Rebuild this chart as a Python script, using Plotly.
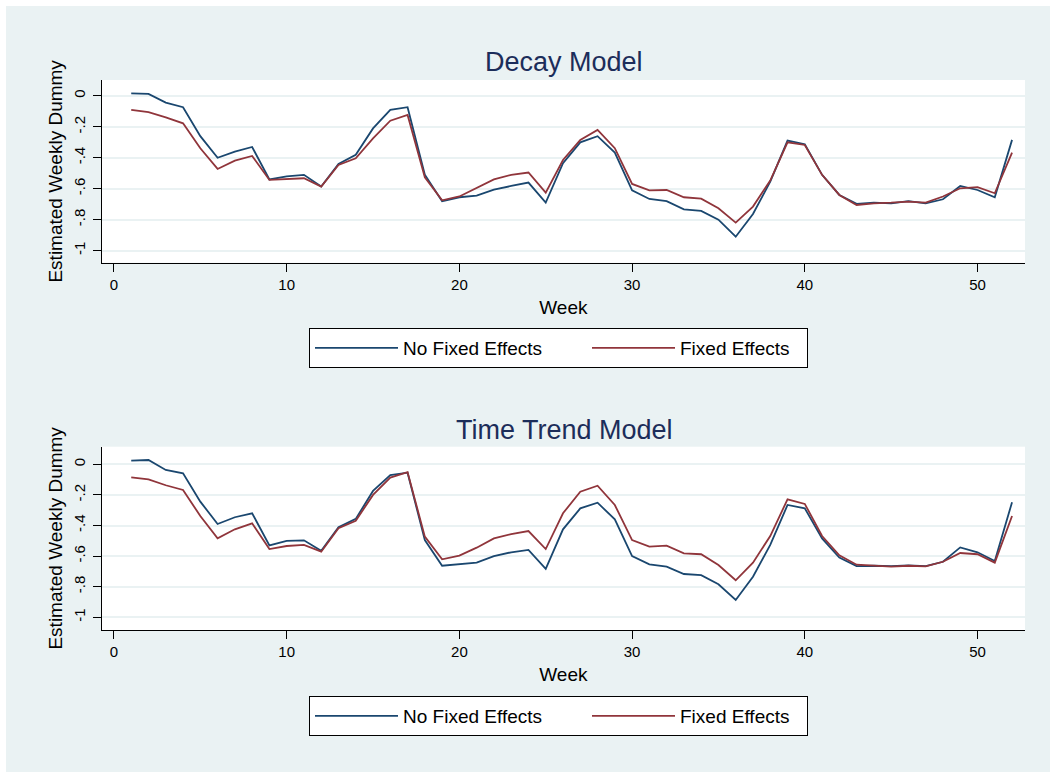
import plotly.graph_objects as go

weeks = list(range(1, 53))

decay_nofe = [0.017, 0.013, -0.043, -0.073, -0.26, -0.40, -0.36, -0.33, -0.54, -0.52,
              -0.51, -0.586, -0.44, -0.38, -0.21, -0.09, -0.073, -0.51, -0.68, -0.655,
              -0.644, -0.605, -0.582, -0.56, -0.69, -0.435, -0.30, -0.26, -0.366, -0.61,
              -0.666, -0.68, -0.733, -0.743, -0.80, -0.91, -0.763, -0.554, -0.289, -0.312,
              -0.51, -0.64, -0.698, -0.69, -0.694, -0.68, -0.694, -0.668, -0.582, -0.608, -0.655, -0.284]
decay_fe = [-0.09, -0.105, -0.138, -0.177, -0.338, -0.472, -0.418, -0.388, -0.543, -0.537,
            -0.532, -0.586, -0.446, -0.403, -0.274, -0.16, -0.123, -0.526, -0.675, -0.65,
            -0.597, -0.539, -0.51, -0.495, -0.625, -0.414, -0.284, -0.22, -0.338, -0.569,
            -0.61, -0.608, -0.655, -0.664, -0.726, -0.819, -0.715, -0.547, -0.30, -0.317,
            -0.51, -0.64, -0.705, -0.694, -0.69, -0.683, -0.69, -0.65, -0.597, -0.59, -0.629, -0.366]
trend_nofe = [0.024, 0.028, -0.037, -0.059, -0.244, -0.39, -0.346, -0.32, -0.53, -0.50,
              -0.497, -0.565, -0.412, -0.357, -0.174, -0.07, -0.055, -0.495, -0.663, -0.652,
              -0.643, -0.60, -0.575, -0.56, -0.684, -0.425, -0.288, -0.251, -0.36, -0.60,
              -0.654, -0.669, -0.717, -0.725, -0.784, -0.887, -0.735, -0.527, -0.266, -0.288,
              -0.484, -0.61, -0.665, -0.663, -0.665, -0.66, -0.665, -0.637, -0.543, -0.575, -0.632, -0.248]
trend_fe = [-0.085, -0.098, -0.137, -0.168, -0.338, -0.484, -0.425, -0.386, -0.554, -0.534,
            -0.527, -0.571, -0.418, -0.369, -0.20, -0.087, -0.052, -0.473, -0.621, -0.597,
            -0.545, -0.484, -0.456, -0.436, -0.554, -0.32, -0.179, -0.14, -0.266, -0.495,
            -0.538, -0.532, -0.582, -0.588, -0.658, -0.758, -0.643, -0.469, -0.229, -0.259,
            -0.469, -0.595, -0.656, -0.663, -0.669, -0.663, -0.667, -0.637, -0.58, -0.588, -0.643, -0.338]

panel_titles = ["Decay Model", "Time Trend Model"]
series_names = ["No Fixed Effects", "Fixed Effects"]
y_tickvals = [0, -0.2, -0.4, -0.6, -0.8, -1]
y_ticktext = ["0", "-.2", "-.4", "-.6", "-.8", "-1"]
x_tickvals = [0, 10, 20, 30, 40, 50]

W, H = 1050, 772
NAVY = "#1A476F"
MAROON = "#90353B"
BG = "#EAF2F3"
FONT = "Liberation Sans, Arial, sans-serif"

def px_x(p):
    return p / W

def px_y(p):
    return 1 - p / H

fig = go.Figure()

panels = [(decay_nofe, decay_fe, "x", "y", "legend"),
          (trend_nofe, trend_fe, "x2", "y2", "legend2")]
for nofe, fe, xa, ya, lg in panels:
    fig.add_trace(go.Scatter(x=weeks, y=nofe, mode="lines", name=series_names[0],
                             line=dict(color=NAVY, width=1.8), xaxis=xa, yaxis=ya,
                             legend=lg, legendwidth=179))
    fig.add_trace(go.Scatter(x=weeks, y=fe, mode="lines", name=series_names[1],
                             line=dict(color=MAROON, width=1.8), xaxis=xa, yaxis=ya,
                             legend=lg, legendwidth=122))

xdom = [px_x(101.7), px_x(1025)]
ydom1 = [px_y(262.7), px_y(80)]
ydom2 = [px_y(630), px_y(446.7)]

xaxis_common = dict(
    domain=xdom, range=[-0.71, 52.75], tickvals=x_tickvals, ticks="outside", ticklen=8,
    tickcolor="black", showline=True, linecolor="black", linewidth=1.3, showgrid=False,
    zeroline=False, tickfont=dict(size=15, color="black", family=FONT),
    title=dict(text="Week", font=dict(size=19, color="black", family=FONT), standoff=8),
    automargin=False,
)
yaxis_common = dict(
    tickvals=y_tickvals, ticktext=y_ticktext, ticks="outside", ticklen=8, tickcolor="black",
    showline=True, linecolor="black", linewidth=1.3, showgrid=True, gridcolor=BG, gridwidth=2,
    zeroline=False, tickangle=-90, tickfont=dict(size=15, color="black", family=FONT),
    ticklabelstandoff=2,
    title=dict(text="Estimated Weekly Dummy", font=dict(size=19, color="black", family=FONT), standoff=2),
    automargin=False,
)

legend_common = dict(
    orientation="h", xanchor="left", yanchor="top", x=px_x(309),
    bgcolor="white", bordercolor="black", borderwidth=1,
    font=dict(size=19, color="black", family=FONT),
    itemwidth=83, itemclick=False, itemdoubleclick=False,
)

fig.update_layout(
    width=W, height=H,
    margin=dict(l=0, r=0, t=0, b=0),
    paper_bgcolor=BG, plot_bgcolor="white",
    font=dict(family=FONT, color="black"),
    xaxis=dict(xaxis_common, anchor="y"),
    yaxis=dict(yaxis_common, domain=ydom1, range=[-1.078, 0.103], anchor="x"),
    xaxis2=dict(xaxis_common, anchor="y2"),
    yaxis2=dict(yaxis_common, domain=ydom2, range=[-1.083, 0.115], anchor="x2"),
    legend=dict(legend_common, y=px_y(328)),
    legend2=dict(legend_common, y=px_y(696)),
    shapes=[
        dict(type="rect", xref="paper", yref="paper", x0=0, x1=1, y0=px_y(6), y1=1,
             fillcolor="white", line=dict(width=0), layer="above"),
        dict(type="rect", xref="paper", yref="paper", x0=0, x1=px_x(6), y0=0, y1=1,
             fillcolor="white", line=dict(width=0), layer="above"),
    ],
    annotations=[
        dict(text=panel_titles[0], xref="paper", yref="paper", x=px_x(564), y=px_y(62),
             xanchor="center", yanchor="middle", showarrow=False,
             font=dict(size=27, color="#1C2D5A", family=FONT)),
        dict(text=panel_titles[1], xref="paper", yref="paper", x=px_x(564), y=px_y(430),
             xanchor="center", yanchor="middle", showarrow=False,
             font=dict(size=27, color="#1C2D5A", family=FONT)),
    ],
)

fig.write_html("out.html")
